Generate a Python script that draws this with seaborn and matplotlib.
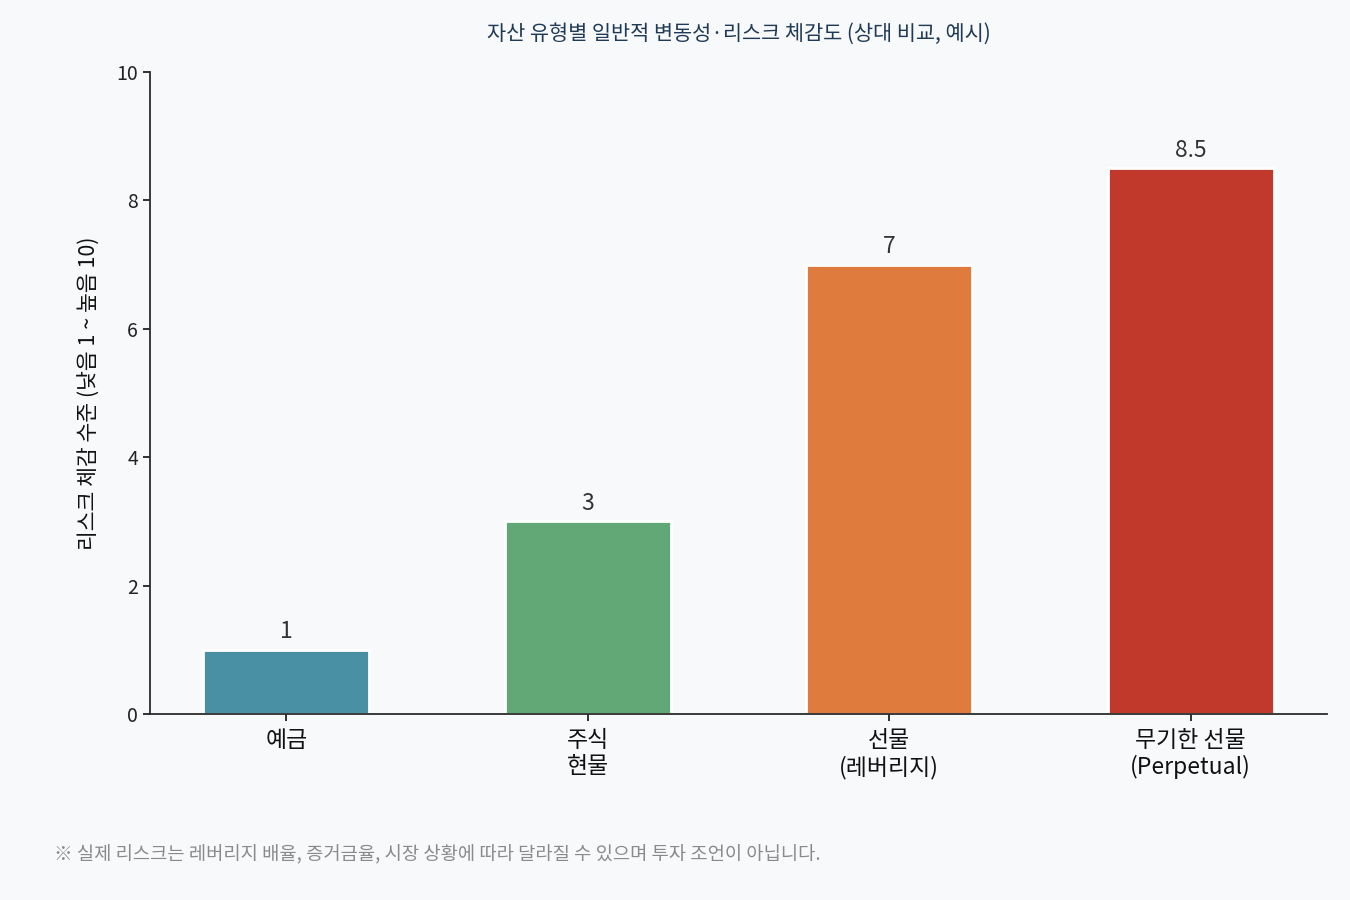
import seaborn as sns
import matplotlib.pyplot as plt
import pandas as pd

# 데이터
categories = ['예금', '주식\n현물', '선물\n(레버리지)', '무기한 선물\n(Perpetual)']
risk_values = [1, 3, 7, 8.5]
value_labels = ['1', '3', '7', '8.5']
bar_colors = ['#4a90a4', '#62a877', '#e07b3e', '#c0392b']

title = '자산 유형별 일반적 변동성·리스크 체감도 (상대 비교, 예시)'
ylabel = '리스크 체감 수준 (낮음 1 ~ 높음 10)'
footnote = '※ 실제 리스크는 레버리지 배율, 증거금율, 시장 상황에 따라 달라질 수 있으며 투자 조언이 아닙니다.'

df = pd.DataFrame({'asset': categories, 'risk': risk_values})

sns.set_style('ticks')
plt.rcParams['font.family'] = ['Noto Sans CJK KR', 'DejaVu Sans']
plt.rcParams['axes.unicode_minus'] = False

fig = plt.figure(figsize=(13.5, 9), dpi=100, facecolor='#f8f9fb')
ax = fig.add_axes([0.1111, 0.2067, 0.8719, 0.7133])
ax.set_facecolor('#f8f9fb')

sns.barplot(data=df, x='asset', y='risk', hue='asset', palette=bar_colors,
            width=0.55, edgecolor='white', linewidth=2, legend=False,
            saturation=1, ax=ax)

for i, v in enumerate(risk_values):
    ax.text(i, v + 0.1, value_labels[i], ha='center', va='bottom',
            fontsize=16.5, color='#333333')

ax.set_xlim(-0.4525, 3.4525)
ax.set_ylim(0, 10)
ax.set_yticks([0, 2, 4, 6, 8, 10])
ax.set_xlabel('')
ax.set_ylabel(ylabel, fontsize=15.5, color='#111111', labelpad=11)
ax.tick_params(axis='x', labelsize=16.5, colors='#222222', length=5, width=1.3, pad=5.5)
ax.tick_params(axis='y', labelsize=14, colors='#222222', length=5, width=1.3)
for lbl in ax.get_xticklabels():
    lbl.set_color('#111111')
for side in ['top', 'right']:
    ax.spines[side].set_visible(False)
for side in ['left', 'bottom']:
    ax.spines[side].set_color('#2b2b2b')
    ax.spines[side].set_linewidth(1.3)

fig.text(0.547, 0.963, title, ha='center', va='center', fontsize=15, color='#1f3a56')
fig.text(0.04, 0.051, footnote, ha='left', va='center', fontsize=13.5, color='#8a8a8a')

plt.savefig('out.png', dpi=100, facecolor=fig.get_facecolor())
